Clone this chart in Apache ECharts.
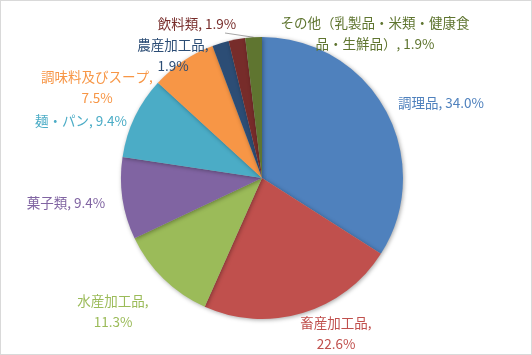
<!DOCTYPE html>
<html><head><meta charset="utf-8">
<script src="https://cdn.jsdelivr.net/npm/echarts@6/dist/echarts.min.js"></script>
<style>html,body{margin:0;padding:0;background:#fff}#c{width:530px;height:353px;border:1px solid #d9d9d9}</style>
</head><body><div id="c"></div>
<script>
const categories = ['調理品','畜産加工品','水産加工品','菓子類','麺・パン','調味料及びスープ','農産加工品','飲料類','その他（乳製品・米類・健康食品・生鮮品）'];
const values = [34.0, 22.6, 11.3, 9.4, 9.4, 7.5, 1.9, 1.9, 1.9];
const labelTexts = ['調理品, 34.0%','畜産加工品,\n22.6%','水産加工品,\n11.3%','菓子類, 9.4%','麺・パン, 9.4%','調味料及びスープ,\n7.5%','農産加工品,\n1.9%','飲料類, 1.9%','その他（乳製品・米類・健康食\n品・生鮮品）, 1.9%'];
const colors = ['#4F81BD','#C0504D','#9BBB59','#8064A2','#4BACC6','#F79646','#2C4D75','#772C2A','#5F7530'];
// label placement (style)
const labelPos = [[440,102],[335,332],[112,310],[65,202],[80,120],[96,86],[172,54],[196,23],[374,32]];

const chart = echarts.init(document.getElementById('c'), null, {renderer:'canvas'});
chart.setOption({
  animation:false,
  series:[{
    type:'pie',
    center:[261,177],
    radius:141,
    startAngle:90,
    clockwise:true,
    data: categories.map((n,i)=>({
      name:n, value:values[i],
      itemStyle:{color:colors[i]},
      label:{color:colors[i]},
      labelLine:{show:i===8}
    })),
    itemStyle:{shadowBlur:4, shadowColor:'rgba(0,0,0,0.35)', shadowOffsetX:1, shadowOffsetY:1},
    label:{
      show:true, position:'outside',
      formatter:(p)=>labelTexts[p.dataIndex],
      fontFamily:'"Noto Sans CJK JP", sans-serif',
      fontSize:13.5, lineHeight:21, align:'center',
      overflow:'none', width:300
    },
    labelLine:{show:true, length:8, length2:8, lineStyle:{color:'#a6a6a6', width:1}},
    labelLayout:(params)=>{
      const p = labelPos[params.dataIndex];
      return {x:p[0], y:p[1], align:'center', verticalAlign:'middle'};
    }
  }]
});
</script></body></html>
